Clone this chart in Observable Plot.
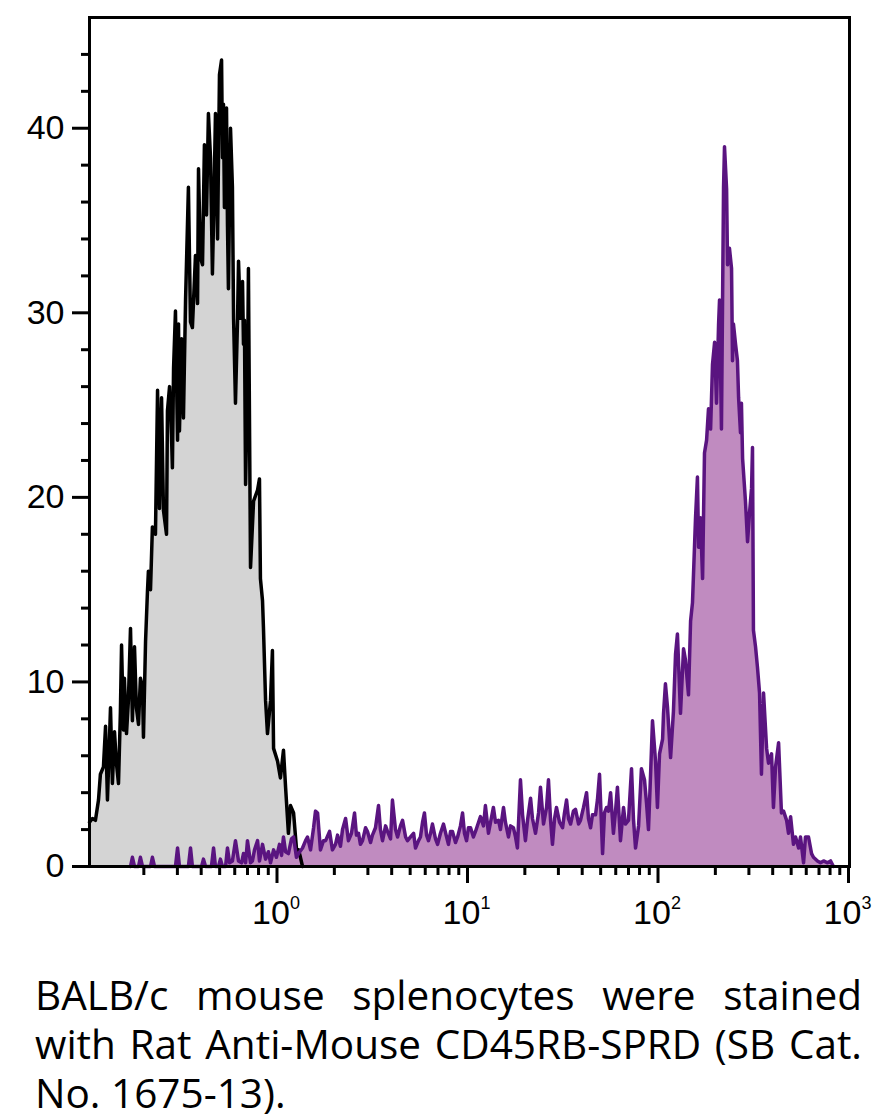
<!DOCTYPE html>
<html><head><meta charset="utf-8">
<script src="https://cdn.jsdelivr.net/npm/d3@7"></script>
<script src="https://cdn.jsdelivr.net/npm/@observablehq/plot@0.6"></script>
<style>
body{margin:0;background:#fff;}
#wrap{position:relative;width:874px;height:1120px;overflow:hidden;}
#caption{position:absolute;left:35px;top:970px;width:827px;font-family:'Open Sans',sans-serif;font-size:40.5px;line-height:49px;color:#000;}
#caption .j{text-align:justify;text-align-last:justify;}
</style>
</head><body>
<div id="wrap"><div id="chart"></div>
<div id="caption"><div class="j">BALB/c mouse splenocytes were stained</div><div class="j">with Rat Anti-Mouse CD45RB-SPRD (SB Cat.</div><div>No. 1675-13).</div></div>
</div>
<script>
// Unstained (grey) histogram: log10 fluorescence and counts
const greyLog = [-0.984,-0.969,-0.953,-0.937,-0.927,-0.911,-0.900,-0.890,-0.874,-0.864,-0.853,-0.843,-0.832,-0.822,-0.816,-0.806,-0.801,-0.790,-0.780,-0.769,-0.759,-0.748,-0.738,-0.727,-0.717,-0.706,-0.701,-0.690,-0.680,-0.675,-0.664,-0.654,-0.638,-0.627,-0.617,-0.606,-0.596,-0.580,-0.575,-0.564,-0.554,-0.549,-0.543,-0.533,-0.522,-0.517,-0.512,-0.501,-0.491,-0.480,-0.465,-0.454,-0.444,-0.428,-0.417,-0.412,-0.402,-0.391,-0.381,-0.370,-0.360,-0.349,-0.339,-0.333,-0.323,-0.312,-0.302,-0.291,-0.286,-0.281,-0.276,-0.265,-0.260,-0.255,-0.244,-0.234,-0.228,-0.218,-0.207,-0.202,-0.192,-0.181,-0.176,-0.171,-0.165,-0.155,-0.150,-0.139,-0.123,-0.102,-0.092,-0.087,-0.076,-0.071,-0.060,-0.050,-0.034,-0.024,-0.018,0.003,0.018,0.034,0.045,0.060,0.071,0.087,0.102,0.113,0.123,0.134];
const greyCount = [2.4,2.6,2.5,3.6,5.0,5.4,7.6,3.6,8.6,4.5,7.3,5.6,4.5,8.4,12.0,7.4,10.2,7.2,9.0,12.9,7.9,11.9,8.6,7.7,10.2,9.7,7.0,12.2,14.9,16.0,15.0,18.4,18.0,25.8,19.4,25.4,19.3,18.0,24.7,26.0,23.4,21.6,27.0,30.1,23.1,29.4,23.6,28.6,24.3,30.7,36.8,29.5,29.2,33.1,30.5,37.8,33.0,32.6,39.1,35.3,40.8,38.4,32.1,35.0,40.8,34.0,42.9,43.7,38.4,41.3,35.7,41.1,34.8,31.3,40.0,36.8,29.7,25.1,29.7,32.8,29.7,31.7,28.3,29.6,20.7,26.1,32.4,16.2,19.8,20.4,21.0,15.6,14.4,12.9,9.0,7.2,9.0,11.7,6.4,5.7,4.8,6.3,4.3,1.8,3.3,2.9,1.0,0.9,0.5,0];

// CD45RB-SPRD stained (purple) histogram
const purpleLog = [-0.769,-0.759,-0.748,-0.727,-0.717,-0.706,-0.664,-0.654,-0.643,-0.533,-0.522,-0.512,-0.465,-0.454,-0.444,-0.396,-0.386,-0.375,-0.344,-0.333,-0.323,-0.307,-0.297,-0.286,-0.270,-0.260,-0.249,-0.234,-0.218,-0.202,-0.186,-0.176,-0.165,-0.155,-0.139,-0.129,-0.118,-0.102,-0.092,-0.076,-0.060,-0.045,-0.034,-0.018,-0.003,0.013,0.024,0.034,0.045,0.060,0.076,0.087,0.102,0.113,0.134,0.150,0.160,0.176,0.192,0.202,0.213,0.228,0.244,0.255,0.276,0.291,0.307,0.318,0.333,0.344,0.360,0.375,0.391,0.407,0.417,0.428,0.438,0.449,0.465,0.475,0.491,0.501,0.517,0.533,0.543,0.554,0.570,0.580,0.596,0.606,0.622,0.633,0.648,0.659,0.675,0.685,0.701,0.717,0.727,0.743,0.753,0.764,0.774,0.785,0.795,0.806,0.816,0.832,0.843,0.858,0.874,0.890,0.900,0.911,0.921,0.937,0.948,0.963,0.974,0.984,0.995,1.005,1.016,1.031,1.042,1.058,1.068,1.084,1.094,1.110,1.121,1.136,1.147,1.163,1.173,1.189,1.199,1.215,1.226,1.241,1.252,1.262,1.278,1.289,1.304,1.315,1.331,1.341,1.357,1.373,1.383,1.399,1.415,1.425,1.436,1.446,1.457,1.467,1.483,1.499,1.509,1.520,1.530,1.541,1.556,1.567,1.583,1.593,1.609,1.625,1.635,1.646,1.656,1.672,1.682,1.693,1.709,1.719,1.730,1.740,1.751,1.766,1.777,1.787,1.803,1.819,1.829,1.845,1.861,1.871,1.882,1.898,1.913,1.929,1.940,1.950,1.961,1.971,1.987,1.997,2.008,2.024,2.029,2.039,2.050,2.066,2.081,2.092,2.102,2.118,2.134,2.144,2.160,2.171,2.181,2.197,2.207,2.213,2.223,2.234,2.244,2.255,2.265,2.276,2.286,2.297,2.307,2.318,2.323,2.333,2.344,2.349,2.360,2.365,2.375,2.386,2.391,2.396,2.407,2.417,2.423,2.433,2.438,2.444,2.459,2.470,2.480,2.491,2.496,2.501,2.512,2.522,2.533,2.543,2.554,2.570,2.580,2.596,2.606,2.617,2.633,2.648,2.659,2.675,2.685,2.696,2.711,2.722,2.738,2.748,2.764,2.774,2.790,2.806,2.816,2.837,2.853,2.869,2.890,2.906,2.921];
const purpleCount = [0,0.5,0,0,0.5,0,0,0.5,0,0,1.0,0,0,1.0,0,0,0.4,0,0,1.0,0,0,0.4,0,0,1.0,0.2,0.3,1.4,0.3,0.2,0.7,0.2,1.4,0.2,0.3,0.9,1.4,0.3,1.2,0.4,0.8,0.2,0.9,0.5,1.2,0.6,1.6,0.8,0.7,1.5,1.6,0.5,0.7,1.0,1.4,1.6,0.9,2.1,3.0,2.9,0.9,1.4,1.4,1.9,0.9,1.2,1.7,1.1,2.0,2.6,1.4,1.8,2.9,1.7,1.8,1.2,1.4,2.1,1.9,1.3,1.7,2.1,3.3,2.0,1.4,2.2,1.9,1.5,3.6,2.0,1.6,2.2,2.5,1.6,1.4,1.6,1.8,1.0,1.4,1.6,2.4,2.9,1.7,1.4,1.8,2.3,1.5,1.2,1.8,2.3,1.6,1.2,1.9,1.9,1.3,1.6,2.2,2.9,1.8,1.4,2.1,2.1,1.6,1.9,2.4,2.7,2.2,3.3,1.8,2.4,3.2,2.4,2.5,2.0,3.2,2.4,1.6,2.2,2.1,1.6,1.0,4.7,2.8,1.4,2.5,3.7,2.6,1.8,2.9,4.3,2.3,3.2,4.7,2.5,1.2,2.6,3.2,2.4,2.1,2.9,3.6,2.6,2.3,3.0,3.1,2.3,2.5,3.2,4.0,2.6,2.1,2.8,2.8,3.6,5.0,0.7,2.9,3.2,3.0,4.0,1.8,3.0,4.3,1.4,3.2,2.3,2.5,5.3,2.6,1.0,2.2,5.3,4.7,3.4,2.0,5.0,7.9,5.7,3.2,6.1,6.9,8.3,9.9,8.6,5.9,8.4,11.5,12.6,8.3,11.8,11.2,9.3,13.3,14.3,18.9,21.1,17.3,18.9,15.6,22.4,23.1,24.8,23.7,27.2,28.4,25.1,29.4,30.7,23.7,36.8,39.0,36.7,32.6,33.5,32.4,27.4,29.4,28.3,27.4,25.4,23.5,25.1,22.1,19.8,17.6,19.1,20.5,22.7,12.8,11.9,10.8,9.4,5.0,9.4,6.4,5.6,6.1,3.2,5.4,6.7,2.9,3.0,2.5,1.8,2.7,1.2,1.6,1.0,1.6,0.2,1.6,1.6,0.7,0.5,0.3,0.2,0.3,0.2,0.3,0];

// Axes
const xDomain = [0.1037, 1012];
const yDomain = [0, 46];
const xMajor = [1, 10, 100, 1000];
const xExponent = ["0", "1", "2", "3"];
const xMinor = [0.2,0.3,0.4,0.5,0.6,0.7,0.8,0.9,2,3,4,5,6,7,8,9,20,30,40,50,60,70,80,90,200,300,400,500,600,700,800,900];
const yMajor = [0, 10, 20, 30, 40];
const yMinor = [2,4,6,8,12,14,16,18,22,24,26,28,32,34,36,38,42,44];

const grey = greyLog.map((e, i) => ({x: 10 ** e, y: greyCount[i]}));
const purple = purpleLog.map((e, i) => ({x: 10 ** e, y: purpleCount[i]}));

const chart = Plot.plot({
  width: 874,
  height: 950,
  marginLeft: 89,
  marginRight: 25,
  marginTop: 17,
  marginBottom: 84,
  style: {fontFamily: "'Liberation Sans',Arial,sans-serif", fontSize: "34px", background: "#fff", color: "#000", overflow: "visible"},
  x: {type: "log", domain: xDomain, label: null},
  y: {domain: yDomain, label: null},
  marks: [
    Plot.areaY(grey, {x: "x", y: "y", fill: "#d4d4d4"}),
    Plot.areaY(purple, {x: "x", y: "y", fill: "#c08bc0"}),
    Plot.lineY(grey, {x: "x", y: "y", stroke: "#000", strokeWidth: 3.5}),
    Plot.lineY(purple, {x: "x", y: "y", stroke: "#5a1480", strokeWidth: 3.5}),
    Plot.axisY(yMinor, {tickSize: 8, strokeWidth: 3, tickFormat: () => "", label: null}),
    Plot.axisY(yMajor, {tickSize: 17, tickPadding: 8, strokeWidth: 3, fontSize: 34, label: null}),
    Plot.axisX(xMinor, {tickSize: 9, strokeWidth: 3, tickFormat: () => "", label: null}),
    Plot.axisX(xMajor, {tickSize: 17, strokeWidth: 3, tickFormat: () => "", label: null}),
    Plot.text(xMajor, {x: d => d, text: () => "10", frameAnchor: "bottom", lineAnchor: "top", dx: -6, dy: 33, fontSize: 34}),
    Plot.text(xMajor, {x: d => d, text: (d, i) => xExponent[i], frameAnchor: "bottom", lineAnchor: "top", dx: 18, dy: 30, fontSize: 18}),
    Plot.frame({strokeWidth: 3})
  ]
});
document.getElementById("chart").appendChild(chart);
</script>
</body></html>
